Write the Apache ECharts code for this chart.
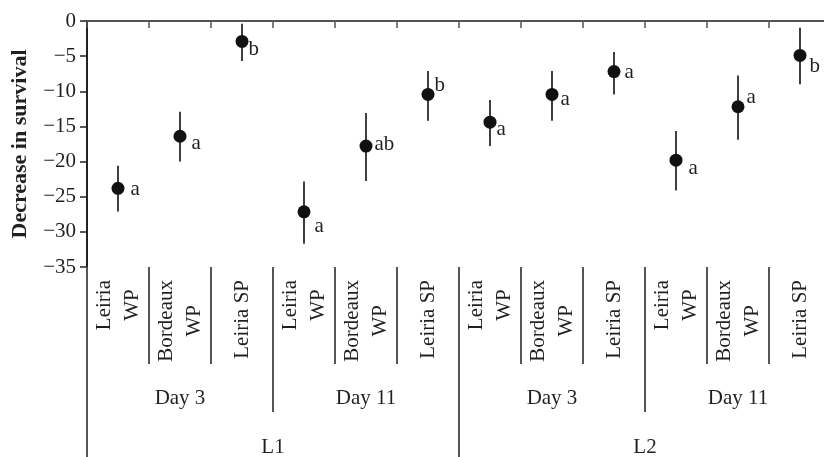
<!DOCTYPE html>
<html>
<head>
<meta charset="utf-8">
<script src="https://cdn.jsdelivr.net/npm/echarts@6/dist/echarts.min.js"></script>
<style>
html,body{margin:0;padding:0;background:#fff;}
#chart{width:824px;height:457px;}
</style>
</head>
<body>
<div id="chart"></div>
<script>
// ---- data ----
var treatments = ['Leiria\nWP', 'Bordeaux\nWP', 'Leiria SP', 'Leiria\nWP', 'Bordeaux\nWP', 'Leiria SP',
                  'Leiria\nWP', 'Bordeaux\nWP', 'Leiria SP', 'Leiria\nWP', 'Bordeaux\nWP', 'Leiria SP'];
var dayLabels = ['Day 3', 'Day 11', 'Day 3', 'Day 11'];
var stageLabels = ['L1', 'L2'];
var means = [-23.8, -16.4, -2.9, -27.15, -17.8, -10.45, -14.4, -10.45, -7.2, -19.8, -12.2, -4.9];
var upper = [-20.6, -12.9, -0.4, -22.85, -13.1, -7.1, -11.25, -7.1, -4.4, -15.65, -7.75, -0.95];
var lower = [-27.1, -20.0, -5.7, -31.7, -22.75, -14.2, -17.8, -14.2, -10.45, -24.1, -16.9, -9.0];
var letters = ['a', 'a', 'b', 'a', 'ab', 'b', 'a', 'a', 'a', 'a', 'a', 'b'];
var yTicks = { min: -35, max: 0, interval: 5 };

// ---- styling (label nudges, not data) ----
var letterNudge = [[6, 1], [5, 7], [0, 8], [4, 15], [2, -2], [0, -9], [0, 7], [2, 5], [4, 1], [6, 8], [2, -9], [3, 11]];

var FONT = 'Liberation Serif';
var TXT = '#231f20';
var LINE = '#555555';

var chart = echarts.init(document.getElementById('chart'));

var catIds = treatments.map(function (t, i) { return 'c' + i; });
var dayIds = dayLabels.map(function (t, i) { return 'd' + i; });
var stageIds = stageLabels.map(function (t, i) { return 's' + i; });

var scatterData = means.map(function (v, i) {
  return {
    value: [i, v],
    label: { offset: letterNudge[i] }
  };
});
var errData = means.map(function (v, i) { return [i, lower[i], upper[i]]; });

var option = {
  animation: false,
  backgroundColor: '#fff',
  grid: { left: 87, top: 21, width: 744, height: 246, containLabel: false, outerBoundsMode: 'none' },
  xAxis: [
    {
      type: 'category', position: 'top', data: catIds,
      axisLine: { show: true, lineStyle: { color: LINE, width: 2 } },
      axisTick: { show: true, inside: true, length: 7, interval: 0, lineStyle: { color: LINE, width: 1.5 } },
      axisLabel: { show: false }, splitLine: { show: false }
    },
    {
      type: 'category', position: 'bottom', data: catIds,
      axisLine: { show: false },
      axisTick: { show: true, length: 97, interval: 0, lineStyle: { color: LINE, width: 2 } },
      axisLabel: {
        show: true, interval: 0, rotate: 90, margin: 13,
        fontFamily: FONT, fontSize: 21, color: TXT, lineHeight: 28,
        formatter: function (v, idx) {
          return treatments[idx].split('\n').map(function (s) { return '{c|' + s + '}'; }).join('\n');
        },
        rich: { c: { align: 'center', fontFamily: FONT, fontSize: 21, color: TXT, lineHeight: 28 } }
      },
      splitLine: { show: false }
    },
    {
      type: 'category', position: 'bottom', data: dayIds,
      axisLine: { show: false },
      axisTick: { show: true, length: 145, interval: 0, lineStyle: { color: LINE, width: 2 } },
      axisLabel: {
        show: true, interval: 0, margin: 121, fontFamily: FONT, fontSize: 21, color: TXT,
        formatter: function (v, idx) { return dayLabels[idx]; }
      },
      splitLine: { show: false }
    },
    {
      type: 'category', position: 'bottom', data: stageIds,
      axisLine: { show: false },
      axisTick: { show: true, length: 200, interval: 0, lineStyle: { color: LINE, width: 2 } },
      axisLabel: {
        show: true, interval: 0, margin: 170, fontFamily: FONT, fontSize: 21, color: TXT,
        formatter: function (v, idx) { return stageLabels[idx]; }
      },
      splitLine: { show: false }
    }
  ],
  yAxis: {
    type: 'value', min: yTicks.min, max: yTicks.max, interval: yTicks.interval,
    name: 'Decrease in survival', nameLocation: 'middle', nameGap: 56,
    nameTextStyle: { fontFamily: FONT, fontSize: 22, fontWeight: 'bold', color: TXT },
    axisLine: { show: true, lineStyle: { color: '#222', width: 2 } },
    axisTick: { show: true, length: 7, lineStyle: { color: '#222', width: 1.5 } },
    axisLabel: {
      margin: 11, fontFamily: FONT, fontSize: 21, color: TXT,
      formatter: function (v) { return String(v).replace('-', '\u2212'); }
    },
    splitLine: { show: false }
  },
  series: [
    {
      type: 'custom', xAxisIndex: 1, yAxisIndex: 0, z: 2,
      data: errData,
      renderItem: function (params, api) {
        var p1 = api.coord([api.value(0), api.value(1)]);
        var p2 = api.coord([api.value(0), api.value(2)]);
        return {
          type: 'line',
          shape: { x1: p1[0], y1: p1[1], x2: p2[0], y2: p2[1] },
          style: { stroke: '#2a2a2a', lineWidth: 1.8 }
        };
      }
    },
    {
      type: 'scatter', xAxisIndex: 1, yAxisIndex: 0, z: 3,
      symbol: 'circle', symbolSize: 13,
      itemStyle: { color: '#111', opacity: 1 },
      data: scatterData,
      label: {
        show: true, position: 'right', distance: 0, opacity: 1,
        fontFamily: FONT, fontSize: 21, color: TXT,
        formatter: function (p) { return letters[p.dataIndex]; }
      }
    }
  ]
};
chart.setOption(option);
</script>
</body>
</html>
